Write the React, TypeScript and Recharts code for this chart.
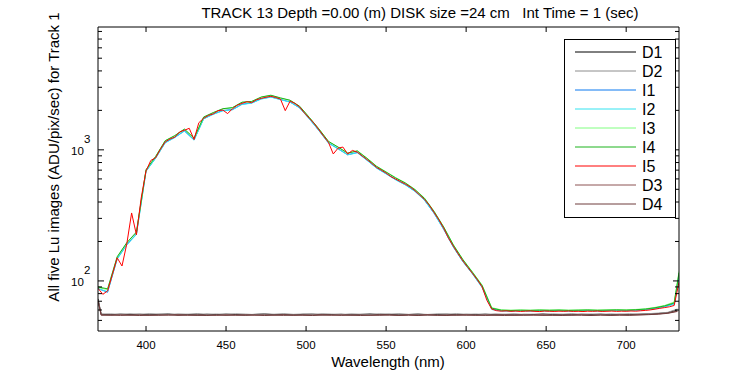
import { LineChart, Line, XAxis, YAxis, Legend } from "recharts";

// wavelength (nm) / Lu (ADU/pix/sec) pairs
const I5 = [
  [370, 88], [373, 79], [376, 84], [379, 112], [382, 150], [385, 130], [388, 192], [391, 330],
  [394, 225], [397, 430], [400, 690], [403, 830], [406, 870], [409, 1010], [412, 1150], [415, 1210],
  [418, 1250], [421, 1370], [424, 1410], [427, 1460], [430, 1200], [433, 1610], [436, 1740], [439, 1830],
  [442, 1880], [445, 1990], [448, 2010], [451, 1890], [454, 2060], [457, 2190], [460, 2260], [463, 2330],
  [466, 2290], [469, 2410], [472, 2470], [475, 2520], [478, 2560], [481, 2510], [484, 2440], [487, 1990],
  [490, 2350], [493, 2260], [496, 2120], [499, 1910], [502, 1740], [505, 1590], [508, 1420], [511, 1270],
  [514, 1140], [517, 930], [520, 1030], [523, 1050], [526, 930], [529, 990], [532, 960], [535, 900],
  [538, 845], [541, 790], [544, 735], [547, 700], [550, 665], [553, 625], [556, 598], [559, 572],
  [562, 548], [565, 522], [568, 488], [571, 452], [574, 418], [577, 378], [580, 332], [583, 292],
  [586, 252], [589, 212], [592, 184], [595, 161], [598, 142], [601, 127], [604, 114], [607, 102],
  [610, 90], [613, 71], [616, 61], [619, 59.3], [622, 58.8], [625, 59.1], [628, 58.6], [631, 58.9],
  [634, 58.5], [637, 58.8], [640, 59.0], [643, 58.6], [646, 58.4], [649, 58.9], [652, 58.7], [655, 58.5],
  [658, 58.8], [661, 58.6], [664, 58.9], [667, 58.5], [670, 58.7], [673, 58.4], [676, 58.8], [679, 58.6],
  [682, 58.9], [685, 58.5], [688, 58.7], [691, 58.9], [694, 58.6], [697, 58.8], [700, 58.7], [703, 59.0],
  [706, 58.8], [709, 59.2], [712, 59.6], [715, 60.1], [718, 60.9], [721, 61.8], [724, 62.6], [727, 63.5],
  [730, 65], [733, 98],
];

const I4 = [
  [370, 90], [376, 87], [382, 153], [388, 196], [394, 236], [400, 705], [406, 890], [412, 1175],
  [418, 1285], [424, 1440], [430, 1230], [436, 1780], [442, 1925], [448, 2060], [454, 2100], [460, 2310],
  [466, 2340], [472, 2530], [478, 2610], [484, 2490], [490, 2390], [496, 2150], [502, 1770], [508, 1445],
  [514, 1160], [520, 1050], [526, 945], [532, 980], [538, 862], [544, 748], [550, 676], [556, 610],
  [562, 558], [568, 497], [574, 426], [580, 338], [586, 257], [592, 188], [598, 145], [604, 116],
  [610, 92], [616, 62], [622, 59.8], [628, 59.5], [634, 59.8], [640, 59.6], [646, 59.9], [652, 59.7],
  [658, 59.9], [664, 59.6], [670, 59.8], [676, 60], [682, 59.7], [688, 59.9], [694, 60.1], [700, 59.9],
  [706, 60.3], [712, 61], [718, 62.4], [724, 64.5], [730, 68], [733, 115],
];

const I3 = [
  [370, 89], [376, 86], [382, 152], [388, 194], [394, 234], [400, 700], [406, 885], [412, 1170],
  [418, 1280], [424, 1430], [430, 1220], [436, 1770], [442, 1915], [448, 2050], [454, 2090], [460, 2300],
  [466, 2330], [472, 2520], [478, 2600], [484, 2480], [490, 2380], [496, 2140], [502, 1765], [508, 1440],
  [514, 1155], [520, 1045], [526, 940], [532, 985], [538, 866], [544, 752], [550, 680], [556, 614],
  [562, 561], [568, 500], [574, 429], [580, 340], [586, 258], [592, 189], [598, 146], [604, 117],
  [610, 93], [616, 62.5], [622, 60.2], [628, 59.9], [634, 60.1], [640, 59.9], [646, 60.2], [652, 60],
  [658, 60.2], [664, 59.9], [670, 60.1], [676, 60.3], [682, 60], [688, 60.2], [694, 60.4], [700, 60.2],
  [706, 60.6], [712, 61.3], [718, 62.8], [724, 65], [730, 69], [733, 118],
];

const I2 = [
  [370, 87], [376, 83], [382, 147], [388, 188], [394, 226], [400, 685], [406, 862], [412, 1130],
  [418, 1240], [424, 1390], [430, 1185], [436, 1720], [442, 1865], [448, 1985], [454, 2020], [460, 2220],
  [466, 2270], [472, 2440], [478, 2525], [484, 2415], [490, 2310], [496, 2085], [502, 1720], [508, 1400],
  [514, 1125], [520, 1015], [526, 915], [532, 950], [538, 832], [544, 725], [550, 655], [556, 590],
  [562, 540], [568, 482], [574, 412], [580, 327], [586, 247], [592, 181], [598, 140], [604, 113],
  [610, 89], [616, 60.5], [622, 59], [628, 58.9], [634, 59.2], [640, 58.8], [646, 59.1], [652, 59],
  [658, 59.3], [664, 58.9], [670, 59.2], [676, 59.4], [682, 59], [688, 59.3], [694, 59.5], [700, 59.2],
  [706, 59.5], [712, 60.2], [718, 61.5], [724, 63.4], [730, 66.5], [733, 104],
];

const I1 = [
  [370, 87.5], [376, 82], [382, 148], [388, 189], [394, 228], [400, 688], [406, 866], [412, 1138],
  [418, 1246], [424, 1396], [430, 1190], [436, 1728], [442, 1874], [448, 1995], [454, 2030], [460, 2230],
  [466, 2280], [472, 2452], [478, 2535], [484, 2425], [490, 2318], [496, 2092], [502, 1728], [508, 1406],
  [514, 1130], [520, 1020], [526, 918], [532, 955], [538, 836], [544, 728], [550, 658], [556, 593],
  [562, 542], [568, 484], [574, 414], [580, 328], [586, 248], [592, 182], [598, 140.5], [604, 113.5],
  [610, 89.5], [616, 61], [622, 59.3], [628, 59.1], [634, 59.5], [640, 59.1], [646, 59.4], [652, 59.2],
  [658, 59.6], [664, 59.1], [670, 59.4], [676, 59.7], [682, 59.2], [688, 59.5], [694, 59.8], [700, 59.4],
  [706, 59.8], [712, 60.5], [718, 61.8], [724, 63.8], [730, 67], [733, 108],
];

const D1 = [
  [370, 73], [372, 55.6], [378, 55.2], [384, 55.8], [390, 55.3], [396, 55.7], [402, 55.1], [408, 55.6],
  [414, 55.9], [420, 55.2], [426, 55.5], [432, 55.0], [438, 55.7], [444, 55.3], [450, 55.8], [456, 55.4],
  [462, 55.1], [468, 55.6], [474, 55.9], [480, 55.3], [486, 55.5], [492, 55.0], [498, 55.6], [504, 55.8],
  [510, 55.2], [516, 55.4], [522, 55.7], [528, 55.1], [534, 55.5], [540, 55.9], [546, 55.3], [552, 55.6],
  [558, 55.0], [564, 55.4], [570, 55.8], [576, 55.2], [582, 55.5], [588, 55.7], [594, 55.1], [600, 55.6],
  [606, 55.3], [612, 55.8], [618, 55.2], [624, 55.5], [630, 55.0], [636, 55.6], [642, 55.4], [648, 55.9],
  [654, 55.3], [660, 55.5], [666, 55.1], [672, 55.7], [678, 55.4], [684, 55.8], [690, 55.2], [696, 55.6],
  [702, 55.3], [708, 55.7], [714, 56.0], [720, 56.4], [726, 57.2], [732, 60],
];

const D2 = [
  [370, 72], [372, 55.9], [378, 56.0], [384, 55.5], [390, 56.1], [396, 55.6], [402, 56.2], [408, 55.8],
  [414, 55.4], [420, 56.0], [426, 55.7], [432, 56.3], [438, 55.6], [444, 55.9], [450, 55.5], [456, 56.1],
  [462, 55.8], [468, 55.4], [474, 56.0], [480, 55.7], [486, 56.2], [492, 55.6], [498, 55.9], [504, 55.5],
  [510, 56.1], [516, 55.8], [522, 55.4], [528, 56.0], [534, 55.7], [540, 55.5], [546, 56.1], [552, 55.8],
  [558, 56.2], [564, 55.6], [570, 55.9], [576, 55.5], [582, 56.0], [588, 55.7], [594, 56.2], [600, 55.6],
  [606, 55.9], [612, 55.4], [618, 56.0], [624, 55.7], [630, 56.1], [636, 55.5], [642, 55.8], [648, 55.6],
  [654, 56.0], [660, 55.7], [666, 56.2], [672, 55.6], [678, 55.9], [684, 55.5], [690, 56.0], [696, 55.7],
  [702, 56.1], [708, 55.8], [714, 56.3], [720, 56.8], [726, 57.6], [732, 61],
];

const D3 = [
  [370, 71], [372, 55.0], [378, 54.7], [384, 55.2], [390, 54.8], [396, 55.1], [402, 54.6], [408, 55.0],
  [414, 54.8], [420, 55.3], [426, 54.7], [432, 55.0], [438, 54.9], [444, 54.6], [450, 55.2], [456, 54.8],
  [462, 55.1], [468, 54.7], [474, 55.0], [480, 54.8], [486, 55.3], [492, 54.6], [498, 55.0], [504, 54.9],
  [510, 55.2], [516, 54.7], [522, 55.1], [528, 54.8], [534, 55.0], [540, 54.6], [546, 55.2], [552, 54.9],
  [558, 54.7], [564, 55.1], [570, 54.8], [576, 55.3], [582, 54.7], [588, 55.0], [594, 54.8], [600, 55.2],
  [606, 54.6], [612, 55.0], [618, 54.9], [624, 55.2], [630, 54.7], [636, 55.0], [642, 54.8], [648, 55.1],
  [654, 54.7], [660, 55.0], [666, 54.9], [672, 55.3], [678, 54.8], [684, 55.0], [690, 54.7], [696, 55.1],
  [702, 54.9], [708, 55.2], [714, 55.5], [720, 56.0], [726, 56.9], [732, 59],
];

const D4 = [
  [370, 70], [372, 54.8], [378, 55.0], [384, 54.6], [390, 54.9], [396, 54.5], [402, 54.9], [408, 54.7],
  [414, 55.1], [420, 54.6], [426, 54.9], [432, 54.7], [438, 54.5], [444, 55.0], [450, 54.6], [456, 54.9],
  [462, 54.7], [468, 55.0], [474, 54.5], [480, 54.9], [486, 54.6], [492, 55.0], [498, 54.7], [504, 54.5],
  [510, 54.9], [516, 55.0], [522, 54.6], [528, 54.9], [534, 54.5], [540, 54.8], [546, 54.7], [552, 55.0],
  [558, 54.6], [564, 54.8], [570, 54.5], [576, 54.9], [582, 54.7], [588, 54.5], [594, 55.0], [600, 54.7],
  [606, 54.9], [612, 54.6], [618, 54.8], [624, 54.5], [630, 54.9], [636, 54.7], [642, 55.0], [648, 54.6],
  [654, 54.8], [660, 54.5], [666, 54.9], [672, 54.7], [678, 54.5], [684, 54.9], [690, 54.6], [696, 54.8],
  [702, 54.7], [708, 55.0], [714, 55.3], [720, 55.8], [726, 56.6], [732, 58.5],
];

const X_TICKS = [400, 450, 500, 550, 600, 650, 700];
const Y_TICKS = [
  50, 60, 70, 80, 90, 100, 200, 300, 400, 500, 600, 700, 800, 900,
  1000, 2000, 3000, 4000, 5000, 6000, 7000, 8000,
];
const Y_EXP: Record<number, string> = { 100: "2", 1000: "3" };

const SERIES = [
  { name: "D1", color: "#000000", pts: D1 },
  { name: "D2", color: "#8c8c8c", pts: D2 },
  { name: "I1", color: "#0a78f0", pts: I1 },
  { name: "I2", color: "#33e3f0", pts: I2 },
  { name: "I3", color: "#80ff80", pts: I3 },
  { name: "I4", color: "#1db31d", pts: I4 },
  { name: "I5", color: "#ff0000", pts: I5 },
  { name: "D3", color: "#8c5252", pts: D3 },
  { name: "D4", color: "#6e3c3c", pts: D4 },
];
const ORDER = SERIES.map((s) => s.name);

const TITLE = "TRACK 13 Depth =0.00 (m) DISK size =24 cm\u00a0\u00a0 Int Time = 1 (sec)";
const FONT = "'Liberation Sans', Arial, Helvetica, sans-serif";

// plot box edges (px), the axes sit on these
const BOX = { left: 98, right: 679, top: 27, bottom: 331 };

const toRows = (pts: number[][]) => pts.map(([wl, v]) => ({ wl, v }));

// matlab style: ticks point into the plot box
const BottomTick = (p: any) => (
  <g>
    <line x1={p.x} y1={BOX.bottom} x2={p.x} y2={BOX.bottom - 5} stroke="#000" />
    <text x={p.x} y={BOX.bottom + 18} textAnchor="middle" fontSize={11.5} fill="#000">
      {p.payload.value}
    </text>
  </g>
);

const TopTick = (p: any) => (
  <line x1={p.x} y1={BOX.top} x2={p.x} y2={BOX.top + 5} stroke="#000" />
);

const LeftTick = (p: any) => {
  const exp = Y_EXP[p.payload.value];
  const x = BOX.left;
  return (
    <g>
      <line x1={x} y1={p.y} x2={x + (exp ? 6 : 4)} y2={p.y} stroke="#000" />
      {exp && (
        <g fontSize={11.5} fill="#000">
          <text x={x - 27} y={p.y + 5.5} textAnchor="start">10</text>
          <text x={x - 14} y={p.y - 6.5} textAnchor="start">{exp}</text>
        </g>
      )}
    </g>
  );
};

const RightTick = (p: any) => {
  const major = Y_EXP[p.payload.value];
  return <line x1={BOX.right} y1={p.y} x2={BOX.right - (major ? 6 : 4)} y2={p.y} stroke="#000" />;
};

const LegendBox = ({ payload }: any) => {
  const items = [...(payload || [])].sort(
    (a: any, b: any) => ORDER.indexOf(a.value) - ORDER.indexOf(b.value)
  );
  return (
    <svg width={112} height={179} style={{ display: "block" }}>
      <rect x={0.5} y={0.5} width={111} height={178} fill="#fff" stroke="#000" />
      {items.map((e: any, i: number) => {
        const cy = 13 + i * 19;
        return (
          <g key={e.value}>
            <line x1={11} y1={cy} x2={72} y2={cy} stroke={e.color} />
            <text x={78} y={cy + 6} fontSize={16} fill="#000" fontFamily={FONT}>
              {e.value}
            </text>
          </g>
        );
      })}
    </svg>
  );
};

export default function App() {
  return (
    <div style={{ position: "absolute", left: 0, top: 0, width: 750, height: 375, background: "#fff", fontFamily: FONT }}>
      <LineChart width={750} height={375} margin={{ top: 17, right: 61, bottom: 14, left: 58 }}>
        <XAxis
          xAxisId={0}
          dataKey="wl"
          type="number"
          domain={[370, 733]}
          allowDataOverflow
          ticks={X_TICKS}
          interval={0}
          height={30}
          tickSize={0}
          tickMargin={0}
          tickLine={false}
          axisLine={{ stroke: "#000" }}
          tick={<BottomTick />}
        />
        <XAxis
          xAxisId="top"
          orientation="top"
          dataKey="wl"
          type="number"
          domain={[370, 733]}
          allowDataOverflow
          ticks={X_TICKS}
          interval={0}
          height={10}
          tickSize={0}
          tickMargin={0}
          tickLine={false}
          axisLine={{ stroke: "#000" }}
          tick={<TopTick />}
        />
        <YAxis
          yAxisId={0}
          scale="log"
          type="number"
          domain={[41.5, 8650]}
          allowDataOverflow
          ticks={Y_TICKS}
          interval={0}
          width={40}
          tickSize={0}
          tickMargin={0}
          tickLine={false}
          axisLine={{ stroke: "#000" }}
          tick={<LeftTick />}
        />
        <YAxis
          yAxisId="right"
          orientation="right"
          scale="log"
          type="number"
          domain={[41.5, 8650]}
          allowDataOverflow
          ticks={Y_TICKS}
          interval={0}
          width={10}
          tickSize={0}
          tickMargin={0}
          tickLine={false}
          axisLine={{ stroke: "#000" }}
          tick={<RightTick />}
        />
        {SERIES.map((s) => (
          <Line
            key={s.name}
            name={s.name}
            data={toRows(s.pts)}
            dataKey="v"
            xAxisId={0}
            yAxisId={0}
            type="linear"
            stroke={s.color}
            strokeWidth={1}
            dot={false}
            activeDot={false}
            isAnimationActive={false}
          />
        ))}
        <Legend
          layout="vertical"
          align="center"
          verticalAlign="middle"
          content={<LegendBox />}
          wrapperStyle={{ left: 564, top: 39, width: 112, height: 179 }}
        />
        <text x={420} y={18} textAnchor="middle" fontSize={15} fill="#000">
          {TITLE}
        </text>
        <text x={388} y={367} textAnchor="middle" fontSize={15} fill="#000">
          Wavelength (nm)
        </text>
        <text x={0} y={0} transform="translate(59,157) rotate(-90)" textAnchor="middle" fontSize={15} fill="#000">
          All five Lu images (ADU/pix/sec) for Track 1
        </text>
      </LineChart>
    </div>
  );
}
